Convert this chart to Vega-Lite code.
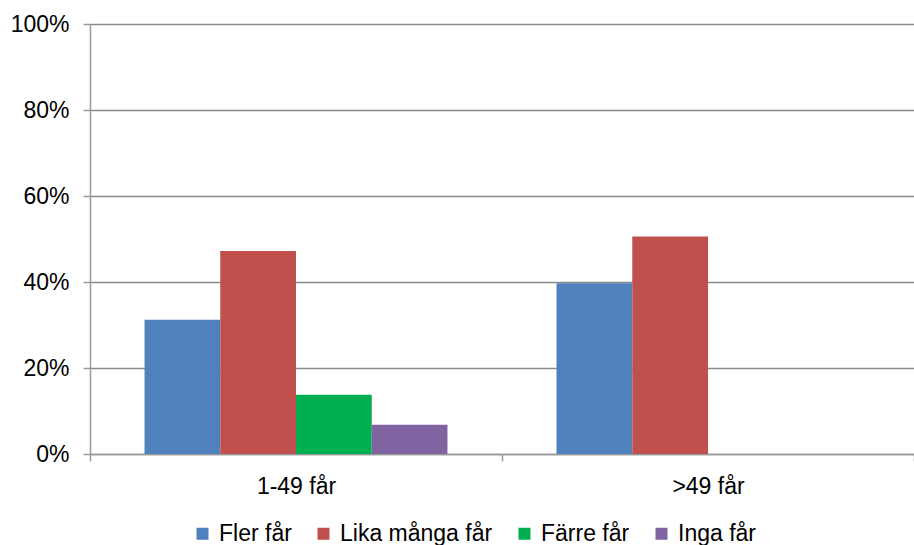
{
  "$schema": "https://vega.github.io/schema/vega-lite/v6.json",
  "width": 824,
  "height": 430,
  "autosize": {"type": "none"},
  "padding": {"left": 90, "top": 24, "right": 0, "bottom": 91},
  "background": "white",
  "data": {
    "values": [
      {"grupp": "1-49 får", "svar": "Fler får", "andel": 0.312},
      {"grupp": "1-49 får", "svar": "Lika många får", "andel": 0.472},
      {"grupp": "1-49 får", "svar": "Färre får", "andel": 0.138},
      {"grupp": "1-49 får", "svar": "Inga får", "andel": 0.068},
      {"grupp": ">49 får", "svar": "Fler får", "andel": 0.397},
      {"grupp": ">49 får", "svar": "Lika många får", "andel": 0.506},
      {"grupp": ">49 får", "svar": "Färre får", "andel": 0},
      {"grupp": ">49 får", "svar": "Inga får", "andel": 0}
    ]
  },
  "mark": {"type": "bar", "strokeWidth": 0},
  "encoding": {
    "x": {
      "field": "grupp",
      "type": "nominal",
      "sort": ["1-49 får", ">49 får"],
      "title": null,
      "scale": {"paddingInner": 0, "paddingOuter": 0},
      "axis": {
        "labelAngle": 0,
        "tickBand": "extent",
        "tickSize": 7,
        "labelPadding": 14,
        "grid": false,
        "domainColor": "#9a9a9a",
        "domainWidth": 1.5,
        "tickColor": "#9a9a9a",
        "tickWidth": 1.5
      }
    },
    "xOffset": {
      "field": "svar",
      "type": "nominal",
      "sort": ["Fler får", "Lika många får", "Färre får", "Inga får"],
      "scale": {"paddingInner": 0, "paddingOuter": 0.72}
    },
    "y": {
      "field": "andel",
      "type": "quantitative",
      "title": null,
      "scale": {"domain": [0, 1], "nice": false},
      "axis": {
        "values": [0, 0.2, 0.4, 0.6, 0.8, 1],
        "format": ".0%",
        "tickSize": 7,
        "labelPadding": 14,
        "grid": true,
        "gridColor": "#8a8a8a",
        "gridWidth": 1.6,
        "domainColor": "#9a9a9a",
        "domainWidth": 1.5,
        "tickColor": "#9a9a9a",
        "tickWidth": 1.5
      }
    },
    "color": {
      "field": "svar",
      "type": "nominal",
      "sort": ["Fler får", "Lika många får", "Färre får", "Inga får"],
      "scale": {
        "domain": ["Fler får", "Lika många får", "Färre får", "Inga får"],
        "range": ["#4F81BD", "#C0504D", "#00B050", "#8064A2"]
      },
      "legend": {
        "orient": "none",
        "legendX": 101,
        "legendY": 498,
        "direction": "horizontal",
        "title": null,
        "symbolType": "square",
        "symbolSize": 144,
        "symbolStrokeWidth": 0,
        "labelOffset": 5,
        "columnPadding": 20
      }
    }
  },
  "config": {
    "view": {"stroke": null},
    "font": "Liberation Sans",
    "axis": {
      "labelFont": "Liberation Sans",
      "labelFontSize": 23,
      "labelColor": "#000000"
    },
    "legend": {
      "labelFont": "Liberation Sans",
      "labelFontSize": 23,
      "labelColor": "#000000"
    }
  }
}
